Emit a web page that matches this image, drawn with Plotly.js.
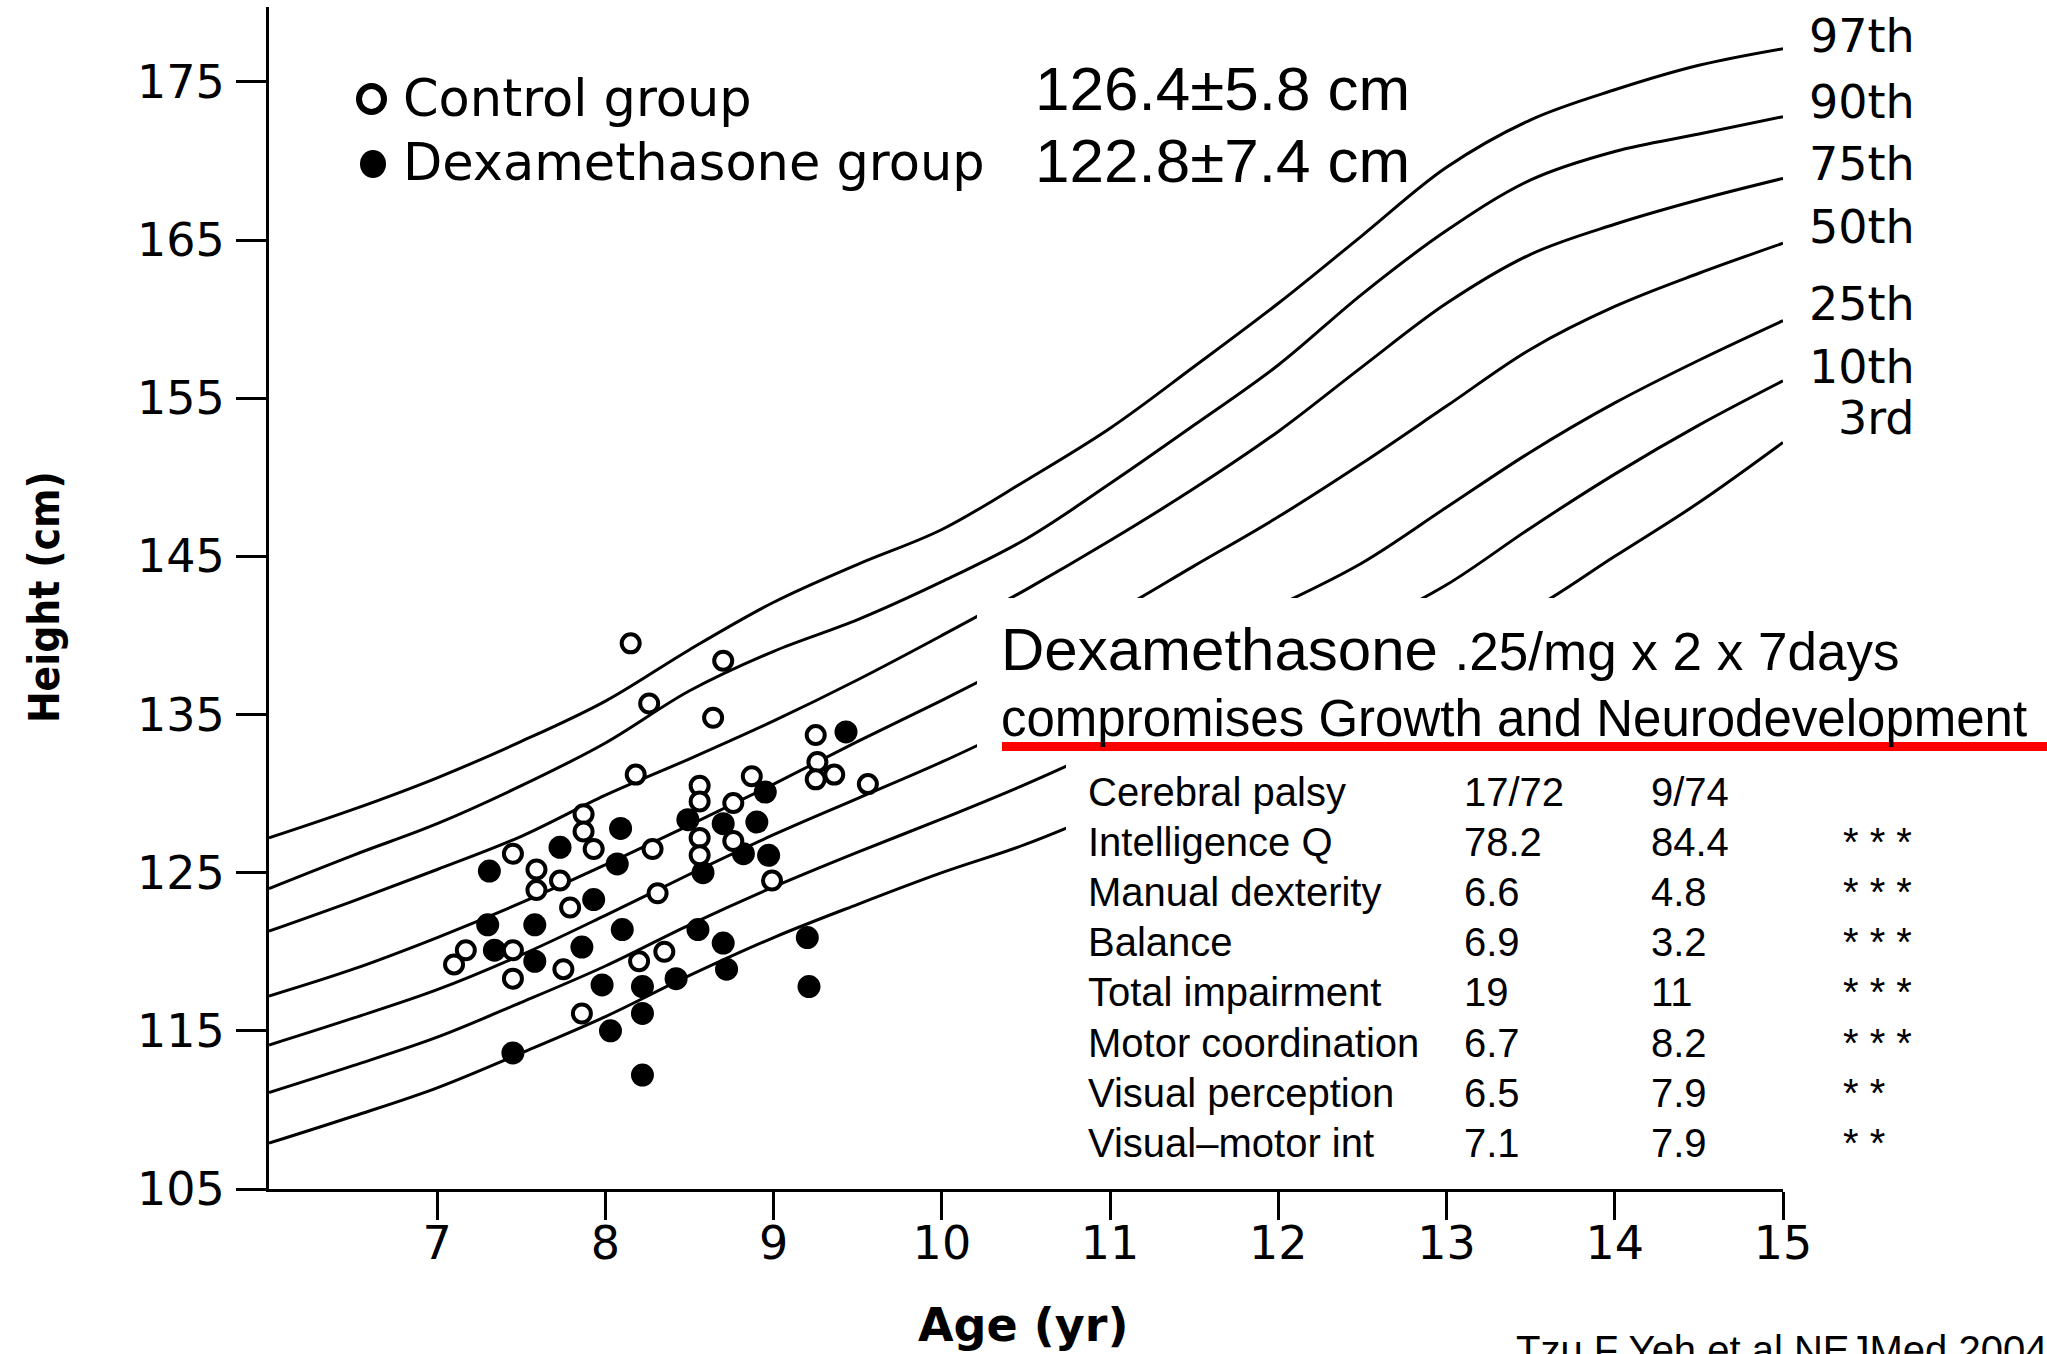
<!DOCTYPE html>
<html>
<head>
<meta charset="utf-8">
<script src="https://cdn.plot.ly/plotly-3.0.1.min.js"></script>
<style>html,body{margin:0;padding:0;background:#fff;}#chart{width:2047px;height:1354px;}</style>
</head>
<body>
<div id="chart"></div>
<script>
// ---------------- data ----------------
const ages = [6, 6.5, 7, 7.5, 8, 8.5, 9, 9.5, 10, 10.5, 11, 11.5, 12, 12.5, 13, 13.5, 14, 14.5, 15];
const p97 = [127.2, 129.0, 131.0, 133.3, 135.85, 139.1, 142.1, 144.5, 146.7, 149.8, 153.1, 157.0, 161.0, 165.3, 169.6, 172.6, 174.5, 176.05, 177.1];
const p90 = [124.0, 126.1, 128.1, 130.5, 133.2, 136.5, 139.0, 141.0, 143.4, 146.1, 149.6, 153.3, 157.1, 161.6, 165.6, 168.8, 170.6, 171.7, 172.8];
const p75 = [121.3, 123.2, 125.2, 127.3, 129.9, 132.2, 134.6, 137.2, 140.0, 142.9, 146.0, 149.3, 152.9, 157.0, 161.0, 164.1, 166.0, 167.55, 168.9];
const p50 = [117.2, 118.9, 120.9, 123.1, 125.5, 128.0, 130.6, 133.3, 135.9, 138.6, 141.3, 144.4, 147.5, 150.9, 154.5, 158.1, 160.8, 162.9, 164.8];
const p25 = [114.1, 115.8, 117.6, 119.8, 122.3, 124.9, 127.4, 129.7, 132.0, 134.5, 137.0, 139.5, 141.9, 144.6, 148.1, 151.6, 154.7, 157.4, 159.9];
const p10 = [111.1, 112.8, 114.6, 116.8, 119.1, 121.7, 124.1, 126.3, 128.4, 130.6, 133.0, 135.5, 138.0, 140.4, 143.2, 146.8, 150.2, 153.3, 156.1];
const p3  = [107.9, 109.6, 111.4, 113.6, 115.9, 118.5, 120.9, 123.0, 125.0, 126.8, 129.0, 131.5, 134.1, 136.7, 139.2, 141.6, 145.0, 148.4, 152.2];
const pctLabels = ["97th", "90th", "75th", "50th", "25th", "10th", "3rd"];

const ctrlAge = [8.15, 8.70, 8.26, 8.64, 9.25, 8.18, 8.87, 9.26, 9.25, 9.36, 9.56, 8.56, 8.56, 8.76, 7.87, 7.87, 7.93, 8.28, 7.45, 7.59, 8.56, 8.56, 8.76, 7.73, 7.59, 7.79, 8.31, 8.99, 7.17, 7.10, 7.45, 7.75, 7.45, 8.20, 8.35, 7.86];
const ctrlHeight = [139.5, 138.4, 135.7, 134.8, 133.7, 131.2, 131.1, 132.0, 130.9, 131.2, 130.6, 130.5, 129.5, 129.4, 128.7, 127.6, 126.5, 126.5, 126.2, 125.2, 127.2, 126.1, 127.0, 124.5, 123.9, 122.8, 123.7, 124.5, 120.1, 119.2, 120.1, 118.9, 118.3, 119.4, 120.0, 116.1];
const dexAge = [9.43, 8.95, 8.49, 8.70, 8.90, 8.09, 7.73, 8.07, 7.31, 8.82, 8.97, 8.58, 7.93, 7.30, 7.58, 8.10, 8.55, 7.34, 7.86, 8.70, 9.20, 7.58, 7.98, 8.22, 8.42, 8.72, 9.21, 8.22, 8.03, 7.45, 8.22];
const dexHeight = [133.9, 130.1, 128.35, 128.1, 128.2, 127.8, 126.6, 125.55, 125.1, 126.2, 126.1, 125.0, 123.3, 121.7, 121.7, 121.4, 121.4, 120.1, 120.3, 120.55, 120.9, 119.4, 117.9, 117.8, 118.3, 118.9, 117.8, 116.1, 115.0, 113.6, 112.2];

const xTicks = [7, 8, 9, 10, 11, 12, 13, 14, 15];
const yTicks = [105, 115, 125, 135, 145, 155, 165, 175];

const legendText = ["Control group", "Dexamethasone group"];
const groupMeans = ["126.4±5.8 cm", "122.8±7.4 cm"];
const headline1 = "Dexamethasone";
const headline1b = ".25/mg x 2 x 7days";
const headline2 = "compromises Growth and Neurodevelopment";
const outcomes = ["Cerebral palsy", "Intelligence Q", "Manual dexterity", "Balance", "Total impairment", "Motor coordination", "Visual perception", "Visual–motor int"];
const dexCol = ["17/72", "78.2", "6.6", "6.9", "19", "6.7", "6.5", "7.1"];
const ctrlCol = ["9/74", "84.4", "4.8", "3.2", "11", "8.2", "7.9", "7.9"];
const signif = ["", "* * *", "* * *", "* * *", "* * *", "* * *", "* *", "* *"];
const citation = "Tzu F Yeh et al NEJMed 2004";

// ---------------- layout helpers ----------------
const W = 2047, H = 1354;
const L = 269, R = 1783, T = 7, B = 1189;
const px = x => (x - L) / (R - L);
const py = y => (B - y) / (B - T);
const yTop = 105 + (B - T) / 15.816;

const FIG = "DejaVu Sans, Verdana, sans-serif";
const TXT = "Liberation Sans, Arial, sans-serif";

const curves = [p97, p90, p75, p50, p25, p10, p3];
const traces = curves.map(c => ({
  x: ages, y: c, type: "scatter", mode: "lines",
  line: {color: "#000", width: 3, shape: "spline", smoothing: 1},
  hoverinfo: "skip", showlegend: false
}));
traces.push({
  x: dexAge, y: dexHeight, type: "scatter", mode: "markers",
  marker: {symbol: "circle", size: 23, color: "#000", line: {width: 0}},
  showlegend: false
});
traces.push({
  x: ctrlAge, y: ctrlHeight, type: "scatter", mode: "markers",
  marker: {symbol: "circle", size: 18, color: "#fff", line: {color: "#000", width: 4}},
  showlegend: false
});

const ann = [];
function txt(text, x, y, size, family, xanchor, extra) {
  ann.push(Object.assign({
    text: text, x: px(x), y: py(y), xref: "paper", yref: "paper",
    xanchor: xanchor || "left", yanchor: "middle", showarrow: false,
    font: {family: family, size: size, color: "#000"}
  }, extra || {}));
}

// legend
txt(legendText[0], 401, 99, 51, FIG);
txt(legendText[1], 401, 163, 51, FIG);
// group means
txt(groupMeans[0], 1033, 88, 62, TXT);
txt(groupMeans[1], 1033, 161, 62, TXT);
// percentile labels
const pctY = [36, 102, 164, 227, 304, 367, 418];
pctLabels.forEach((s, i) => txt(s, 1917, pctY[i], 46, FIG, "right"));
// axis titles
txt("<b>Age (yr)</b>", 1023, 1325, 46, FIG, "center");
txt("<b>Height (cm)</b>", 44, 597, 42, "Liberation Sans Narrow, DejaVu Sans Condensed, sans-serif", "center", {textangle: -90});
// headline
txt(headline1 + ' <span style="font-size:53px">' + headline1b + '</span>', 999, 649, 60, TXT);
txt(headline2, 999, 718, 51, TXT);
// table
outcomes.forEach((s, i) => {
  const y = 792 + 50.1 * i;
  txt(s, 1086, y, 40, TXT);
  txt(dexCol[i], 1462, y, 40, TXT);
  txt(ctrlCol[i], 1649, y, 40, TXT);
  if (signif[i]) txt(signif[i], 1841, y, 40, TXT);
});
// citation (cut at bottom edge, as in the reference)
ann.push({text: citation, x: px(1514), y: py(1326), xref: "paper", yref: "paper",
  xanchor: "left", yanchor: "top", showarrow: false,
  font: {family: TXT, size: 40, color: "#000"}});

const shapes = [
  // white panels that mask the growth curves behind the summary text
  {type: "rect", xref: "paper", yref: "paper", x0: px(977), x1: px(2047), y0: py(760), y1: py(598),
   fillcolor: "#fff", line: {width: 0}, layer: "above"},
  {type: "rect", xref: "paper", yref: "paper", x0: px(1066), x1: px(2047), y0: py(1180), y1: py(760),
   fillcolor: "#fff", line: {width: 0}, layer: "above"},
  // red underline
  {type: "rect", xref: "paper", yref: "paper", x0: px(1002), x1: px(2047), y0: py(751), y1: py(742),
   fillcolor: "#ff0000", line: {width: 0}, layer: "above"},
  // legend symbols
  {type: "circle", xref: "paper", yref: "paper", x0: px(359), x1: px(384), y0: py(112), y1: py(86),
   fillcolor: "#fff", line: {color: "#000", width: 6}, layer: "above"},
  {type: "circle", xref: "paper", yref: "paper", x0: px(360), x1: px(386), y0: py(178), y1: py(150),
   fillcolor: "#000", line: {width: 0}, layer: "above"}
];

const axisCommon = {
  showgrid: false, zeroline: false, showline: true, linecolor: "#000", linewidth: 3,
  ticks: "outside", tickcolor: "#000", tickwidth: 3, tickmode: "array",
  tickfont: {family: FIG, size: 46, color: "#000"}, fixedrange: true
};

const layout = {
  width: W, height: H,
  margin: {l: L, r: W - R, t: T, b: H - B, pad: 0},
  paper_bgcolor: "#fff", plot_bgcolor: "#fff",
  showlegend: false,
  xaxis: Object.assign({}, axisCommon, {range: [6, 15], tickvals: xTicks, ticklen: 28, ticklabelstandoff: -16}),
  yaxis: Object.assign({}, axisCommon, {range: [105, yTop], tickvals: yTicks, ticklen: 30, ticklabelstandoff: 2}),
  annotations: ann,
  shapes: shapes
};

Plotly.newPlot("chart", traces, layout, {staticPlot: true, displayModeBar: false});
</script>
</body>
</html>
